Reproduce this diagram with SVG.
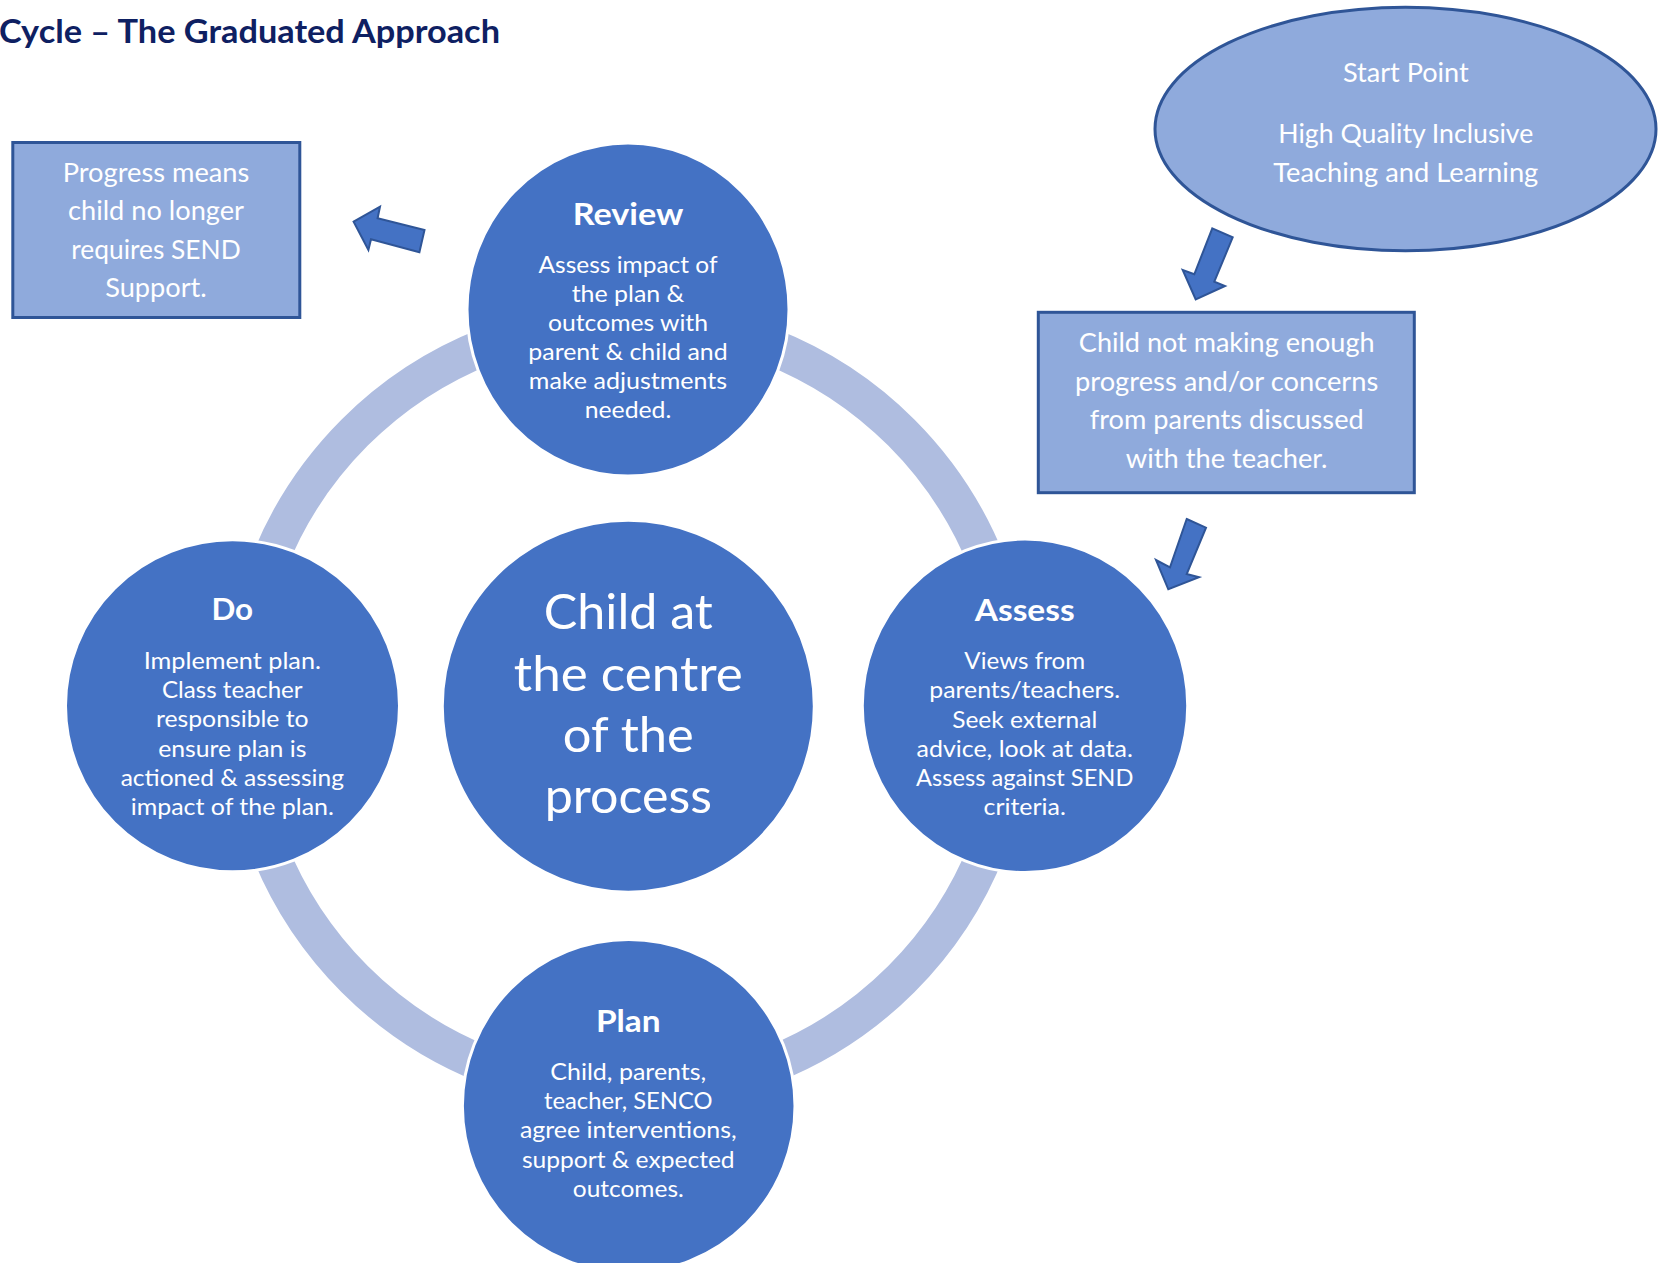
<svg xmlns="http://www.w3.org/2000/svg" width="1665" height="1263" viewBox="0 0 1665 1263">
<style>
  .bg { fill: #ffffff; }
  .title { font-family: Lato, "Open Sans", "Liberation Sans", sans-serif; font-weight: bold; font-size: 33px; fill: #0e2062; }
  .ring { fill: none; stroke: #afbde0; stroke-width: 37; }
  .circ { fill: #4472c4; stroke: #ffffff; stroke-width: 3; }
  .box { fill: #8faadc; stroke: #2f5597; stroke-width: 3; }
  .arrow { fill: #4472c4; stroke: #2f5597; stroke-width: 2; stroke-linejoin: miter; }
  text.t { font-family: Lato, "Open Sans", "Liberation Sans", sans-serif; fill: #ffffff; text-anchor: middle; }
  .head { font-size: 31px; font-weight: bold; }
  .body { font-size: 24px; }
  .boxt { font-size: 26.5px; }
  .big { font-size: 49px; }
</style>
<rect class="bg" x="0" y="0" width="1665" height="1263"/>
<text class="title" x="-1" y="42.7" textLength="501" lengthAdjust="spacingAndGlyphs">Cycle – The Graduated Approach</text>

<g id="connectors">
  <circle class="ring" cx="628" cy="705.8" r="386.5"/>
  <polygon class="arrow" points="353.6,221.7 380,206.7 377.6,218.3 424.5,230 419.4,252.3 371,239.3 368.4,250"/>
  <polygon class="arrow" points="1212.3,228.3 1232.7,237.3 1214.3,281.7 1225,286 1195.7,299.3 1182.7,270 1194.3,274.3"/>
  <polygon class="arrow" points="1186.7,519 1206,527.7 1186.7,574 1199,577.3 1168.3,589.3 1156,560 1170,567.3"/>
</g>

<g id="start">
  <ellipse class="box" cx="1405.5" cy="129" rx="250.5" ry="121.7" stroke-width="2.5"/>
  <text class="t boxt" x="1405.8" y="82.3" textLength="125.7" lengthAdjust="spacingAndGlyphs">Start Point</text>
  <text class="t boxt" x="1405.8" y="142.7" textLength="255" lengthAdjust="spacingAndGlyphs">High Quality Inclusive</text>
  <text class="t boxt" x="1405.8" y="181.7" textLength="265" lengthAdjust="spacingAndGlyphs">Teaching and Learning</text>
</g>

<g id="concern">
  <rect class="box" x="1038.3" y="312.3" width="376" height="180.4"/>
  <text class="t boxt" x="1226.7" y="352.3" textLength="295.7" lengthAdjust="spacingAndGlyphs">Child not making enough</text>
  <text class="t boxt" x="1226.7" y="390.7" textLength="303.3" lengthAdjust="spacingAndGlyphs">progress and/or concerns</text>
  <text class="t boxt" x="1226.7" y="429.3" textLength="274" lengthAdjust="spacingAndGlyphs">from parents discussed</text>
  <text class="t boxt" x="1226.7" y="467.7" textLength="201.7" lengthAdjust="spacingAndGlyphs">with the teacher.</text>
</g>

<g id="progress">
  <rect class="box" x="12.8" y="142.5" width="287" height="175"/>
  <text class="t boxt" x="156" y="181.5" textLength="186.7" lengthAdjust="spacingAndGlyphs">Progress means</text>
  <text class="t boxt" x="156" y="220" textLength="176" lengthAdjust="spacingAndGlyphs">child no longer</text>
  <text class="t boxt" x="156" y="258.5" textLength="169.4" lengthAdjust="spacingAndGlyphs">requires SEND</text>
  <text class="t boxt" x="156" y="297" textLength="101.5" lengthAdjust="spacingAndGlyphs">Support.</text>
</g>

<g id="review">
  <ellipse class="circ" cx="628" cy="309.5" rx="161" ry="166.5"/>
  <text class="t head" x="628" y="225" textLength="110.7" lengthAdjust="spacingAndGlyphs">Review</text>
  <text class="t body" x="628" y="272.7" textLength="179" lengthAdjust="spacingAndGlyphs">Assess impact of</text>
  <text class="t body" x="628" y="301.7" textLength="112.7" lengthAdjust="spacingAndGlyphs">the plan &amp;</text>
  <text class="t body" x="628" y="330.7" textLength="160" lengthAdjust="spacingAndGlyphs">outcomes with</text>
  <text class="t body" x="628" y="360" textLength="199.3" lengthAdjust="spacingAndGlyphs">parent &amp; child and</text>
  <text class="t body" x="628" y="389.3" textLength="198.3" lengthAdjust="spacingAndGlyphs">make adjustments</text>
  <text class="t body" x="628" y="418.3" textLength="86.7" lengthAdjust="spacingAndGlyphs">needed.</text>
</g>

<g id="do">
  <ellipse class="circ" cx="232.5" cy="705.8" rx="167" ry="166"/>
  <text class="t head" x="232.3" y="620" textLength="41.7" lengthAdjust="spacingAndGlyphs">Do</text>
  <text class="t body" x="232.3" y="669" textLength="177.3" lengthAdjust="spacingAndGlyphs">Implement plan.</text>
  <text class="t body" x="232.3" y="697.7" textLength="140.7" lengthAdjust="spacingAndGlyphs">Class teacher</text>
  <text class="t body" x="232.3" y="727.3" textLength="152.7" lengthAdjust="spacingAndGlyphs">responsible to</text>
  <text class="t body" x="232.3" y="756.7" textLength="148.3" lengthAdjust="spacingAndGlyphs">ensure plan is</text>
  <text class="t body" x="232.3" y="785.7" textLength="223.3" lengthAdjust="spacingAndGlyphs">actioned &amp; assessing</text>
  <text class="t body" x="232.3" y="815" textLength="203.3" lengthAdjust="spacingAndGlyphs">impact of the plan.</text>
</g>

<g id="assess">
  <ellipse class="circ" cx="1025" cy="705.8" rx="162.7" ry="166.8"/>
  <text class="t head" x="1024.7" y="620.7" textLength="100" lengthAdjust="spacingAndGlyphs">Assess</text>
  <text class="t body" x="1024.7" y="669.3" textLength="120.7" lengthAdjust="spacingAndGlyphs">Views from</text>
  <text class="t body" x="1024.7" y="698.3" textLength="190.7" lengthAdjust="spacingAndGlyphs">parents/teachers.</text>
  <text class="t body" x="1024.7" y="727.7" textLength="145" lengthAdjust="spacingAndGlyphs">Seek external</text>
  <text class="t body" x="1024.7" y="756.7" textLength="216.3" lengthAdjust="spacingAndGlyphs">advice, look at data.</text>
  <text class="t body" x="1024.7" y="785.7" textLength="217.3" lengthAdjust="spacingAndGlyphs">Assess against SEND</text>
  <text class="t body" x="1024.7" y="815" textLength="82.3" lengthAdjust="spacingAndGlyphs">criteria.</text>
</g>

<g id="plan">
  <ellipse class="circ" cx="628.7" cy="1106" rx="166.3" ry="166.5"/>
  <text class="t head" x="628.3" y="1031.7" textLength="64.7" lengthAdjust="spacingAndGlyphs">Plan</text>
  <text class="t body" x="628.3" y="1080" textLength="156" lengthAdjust="spacingAndGlyphs">Child, parents,</text>
  <text class="t body" x="628.3" y="1109" textLength="168.7" lengthAdjust="spacingAndGlyphs">teacher, SENCO</text>
  <text class="t body" x="628.3" y="1138.3" textLength="216.7" lengthAdjust="spacingAndGlyphs">agree interventions,</text>
  <text class="t body" x="628.3" y="1167.7" textLength="212.7" lengthAdjust="spacingAndGlyphs">support &amp; expected</text>
  <text class="t body" x="628.3" y="1196.7" textLength="111" lengthAdjust="spacingAndGlyphs">outcomes.</text>
</g>

<g id="centre">
  <circle class="circ" cx="628.3" cy="706.2" r="186"/>
  <text class="t big" x="628.3" y="629" textLength="169" lengthAdjust="spacingAndGlyphs">Child at</text>
  <text class="t big" x="628.3" y="690.7" textLength="229" lengthAdjust="spacingAndGlyphs">the centre</text>
  <text class="t big" x="628.3" y="751.7" textLength="131" lengthAdjust="spacingAndGlyphs">of the</text>
  <text class="t big" x="628.3" y="813.3" textLength="167.3" lengthAdjust="spacingAndGlyphs">process</text>
</g>
</svg>
